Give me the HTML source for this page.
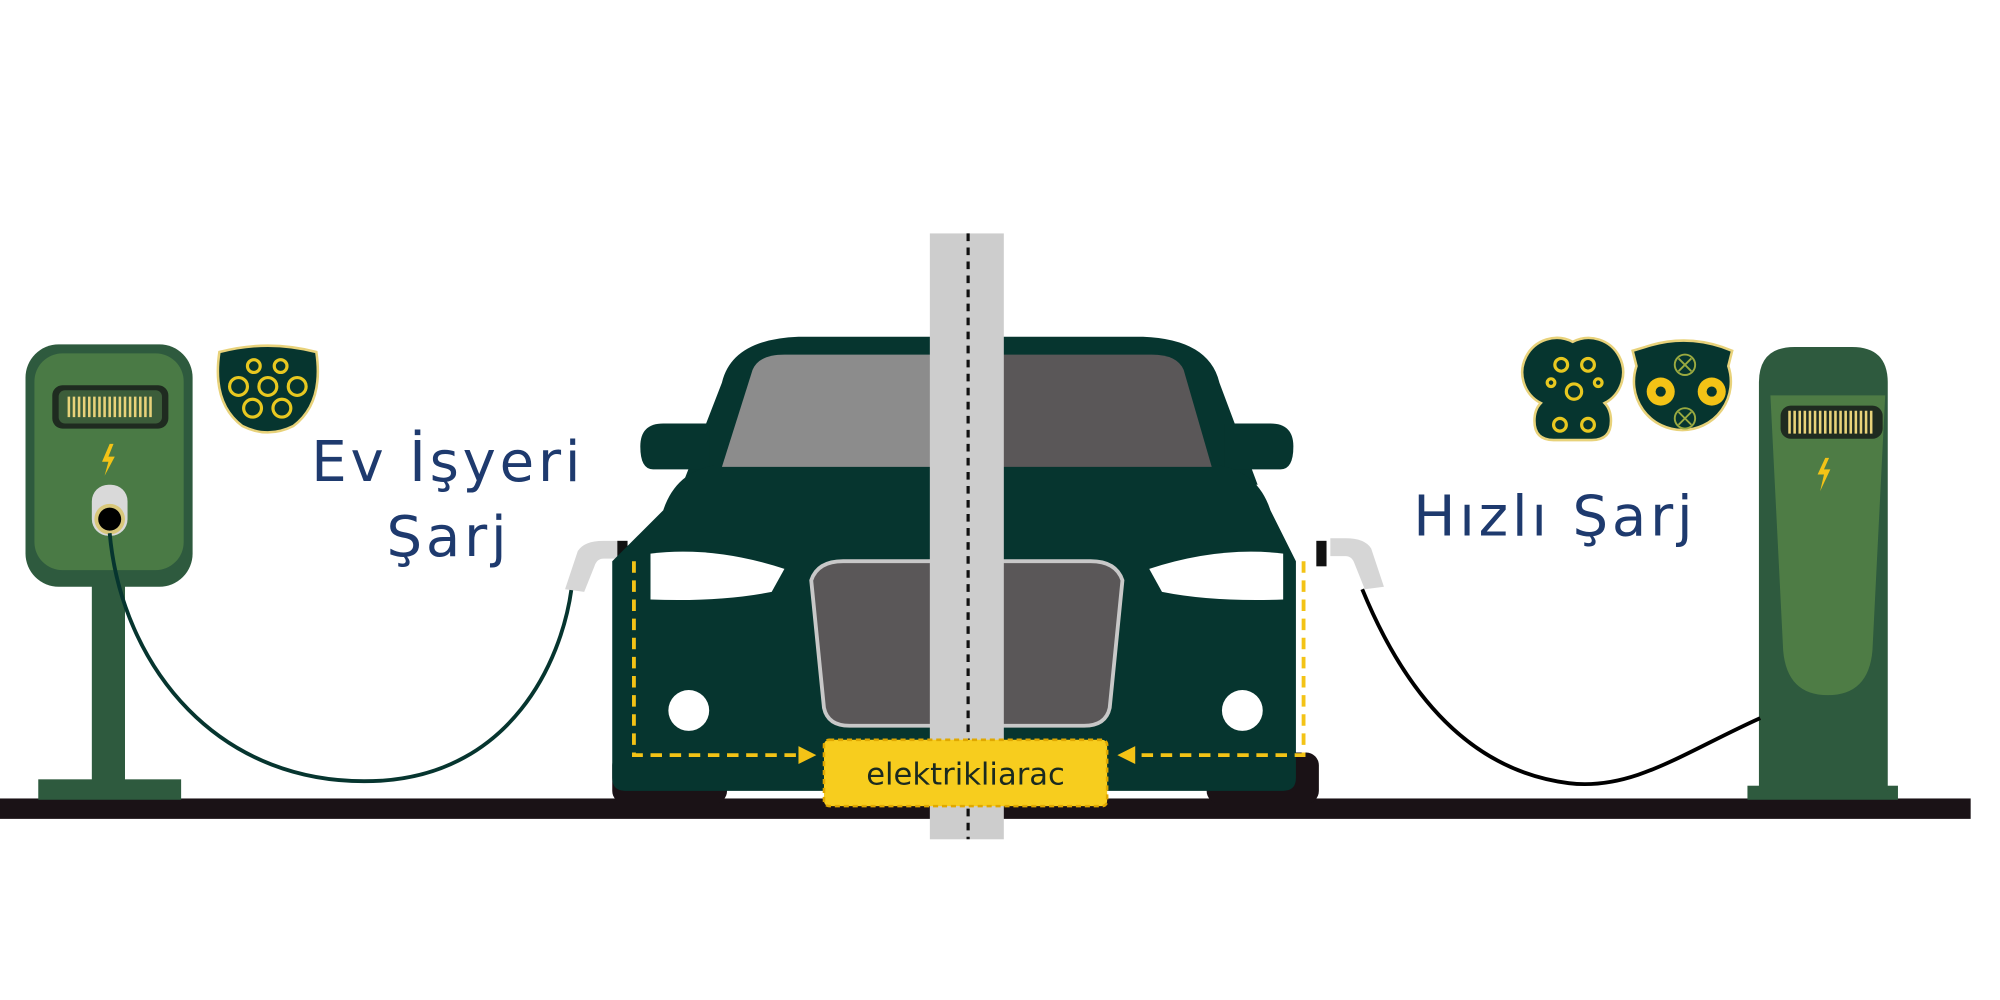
<!DOCTYPE html>
<html><head><meta charset="utf-8"><style>html,body{margin:0;padding:0;background:#fff}svg{display:block}</style></head>
<body>
<svg width="2000" height="1000" viewBox="0 0 1568 784" xmlns="http://www.w3.org/2000/svg">
<rect width="1568" height="784" fill="#fff"/>
<!-- ground -->
<rect x="0" y="626" width="1545" height="16" fill="#1a1216"/>
<!-- left charger -->
<rect x="72" y="455" width="26" height="160" fill="#2e5a3e"/>
<rect x="30" y="611" width="112" height="16" fill="#2e5a3e"/>
<rect x="20" y="270" width="131" height="190" rx="26" fill="#2e5a3e"/>
<rect x="27" y="277" width="117" height="170" rx="22" fill="#4a7a45"/>
<rect x="41" y="302" width="91" height="34" rx="8" fill="#1f2b20"/>
<rect x="46" y="306" width="81" height="26" rx="5" fill="#3c5d3a"/>
<g stroke="#e8d27a" stroke-width="2">
<path d="M54 311v16M58 311v16M62 311v16M66 311v16M70 311v16M74 311v16M78 311v16M82 311v16M86 311v16M90 311v16M94 311v16M98 311v16M102 311v16M106 311v16M110 311v16M114 311v16M118 311v16"/></g>
<path d="M86 348l-6 14h5l-3 11 8-15h-5l4-10z" fill="#f3c316"/>
<rect x="72" y="380" width="28" height="40" rx="13" fill="#d9d9d9"/>
<circle cx="86" cy="407" r="12" fill="#d8c77a"/><circle cx="86" cy="407" r="9" fill="#000"/>
<path d="M86 418 C95 520 170 620 300 612 C400 605 440 520 448 462" fill="none" stroke="#06352f" stroke-width="3"/>
<!-- left plug -->
<path d="M443 462 l10 -30 q5 -8 20 -8 l12 0 l0 14 l-12 0 q-5 0 -7 6 l-8 20z" fill="#d6d6d6"/>
<rect x="484" y="424" width="8" height="20" fill="#111"/>
<!-- connector left -->
<path d="M172 276 q38 -10 76 0 q6 40 -18 58 q-20 10 -40 0 q-24 -18 -18 -58z" fill="#06352f" stroke="#e8d27a" stroke-width="2"/>
<g fill="none" stroke="#e8c820" stroke-width="2.5">
<circle cx="199" cy="287" r="5"/><circle cx="220" cy="287" r="5"/><circle cx="187" cy="303" r="7"/><circle cx="210" cy="303" r="7"/><circle cx="233" cy="303" r="7"/><circle cx="198" cy="320" r="7"/><circle cx="221" cy="320" r="7"/></g>
<!-- text -->
<g font-family="'DejaVu Sans','Liberation Sans',sans-serif" fill="#1e3a6e" font-size="44" letter-spacing="3">
<text x="244" y="377">Ev İşyeri</text>
<text x="303" y="436">Şarj</text>
<text x="1108" y="420">Hızlı Şarj</text>
</g>
<!-- right connectors -->
<path d="M1233 268 a27 27 0 0 1 25 48 q5 5 5 14 q0 15 -15 15 l-30 0 q-15 0 -15 -15 q0 -9 5 -14 a27 27 0 0 1 25 -48z" fill="#06352f" stroke="#e8d27a" stroke-width="2"/>
<g fill="none" stroke="#e8c820" stroke-width="2.5"><circle cx="1224" cy="286" r="5"/><circle cx="1245" cy="286" r="5"/><circle cx="1216" cy="300" r="3"/><circle cx="1253" cy="300" r="3"/><circle cx="1234" cy="307" r="6"/><circle cx="1223" cy="333" r="5"/><circle cx="1245" cy="333" r="5"/></g>
<path d="M1290 272 q30 -10 60 0 l8 3 q-2 8 -3 12 a38 38 0 1 1 -72 0 q-1 -4 -3 -12z" fill="#06352f" stroke="#e8d27a" stroke-width="2"/>
<circle cx="1302" cy="307" r="11" fill="#f3c316"/><circle cx="1302" cy="307" r="4" fill="#06352f"/>
<circle cx="1342" cy="307" r="11" fill="#f3c316"/><circle cx="1342" cy="307" r="4" fill="#06352f"/>
<g fill="none" stroke="#9aaa40" stroke-width="1.5"><circle cx="1321" cy="286" r="8"/><circle cx="1321" cy="328" r="8"/><path d="M1316 281l10 10M1326 281l-10 10M1316 323l10 10M1326 323l-10 10"/></g>
<!-- right charger -->
<rect x="1370" y="616" width="118" height="11" fill="#2e5a3e"/>
<path d="M1379 620 V300 q0 -28 28 -28 h45 q28 0 28 28 V620z" fill="#2e5a3e"/>
<path d="M1388 310 h90 l-10 200 q-3 35 -35 35 q-32 0 -35 -35z" fill="#4e7c45"/>
<rect x="1396" y="318" width="80" height="26" rx="8" fill="#1f2b20"/>
<g stroke="#e8d27a" stroke-width="2"><path d="M1403 322v18M1407 322v18M1411 322v18M1415 322v18M1419 322v18M1423 322v18M1427 322v18M1431 322v18M1435 322v18M1439 322v18M1443 322v18M1447 322v18M1451 322v18M1455 322v18M1459 322v18M1463 322v18M1467 322v18"/></g>
<path d="M1431 359l-6 13h5l-3 13 8-17h-5l4-9z" fill="#f3c316"/>
<path d="M1380 563 C1320 590 1280 620 1230 614 C1150 604 1100 540 1068 462" fill="none" stroke="#000" stroke-width="3"/>
<path d="M1070 462 l-8 -20 q-2 -6 -7 -6 l-12 0 l0 -14 l12 0 q15 0 20 8 l10 30z" fill="#d6d6d6"/>
<rect x="1032" y="424" width="8" height="20" fill="#111"/>
<!-- car -->
<rect x="480" y="590" width="90" height="40" rx="10" fill="#1a1216"/>
<rect x="946" y="590" width="88" height="40" rx="10" fill="#1a1216"/>
<path d="M566 300 q8 -34 60 -36 h270 q52 2 60 36 l30 80 H535z" fill="#06352f"/>
<path d="M502 350 q0 -18 18 -18 h36 v36 h-44 q-10 0 -10 -18z" fill="#06352f"/>
<path d="M1014 350 q0 -18 -18 -18 h-36 v36 h44 q10 0 10 -18z" fill="#06352f"/>
<path d="M520 400 q10 -30 40 -35 h396 q30 5 40 35 l20 40 v170 q0 10 -10 10 H490 q-10 0 -10 -10 V440z" fill="#06352f"/>
<path d="M590 290 q5 -12 25 -12 h143 v88 H566z" fill="#8c8c8c"/>
<path d="M758 278 h145 q20 0 25 12 l22 76 H758z" fill="#5a5758"/>
<path d="M510 434 q50 -6 105 12 l-10 18 q-40 8 -95 6z" fill="#fff"/>
<path d="M1006 434 q-50 -6 -105 12 l10 18 q40 8 95 6z" fill="#fff"/>
<path d="M636 455 q5 -15 25 -15 h194 q20 0 25 15 l-10 100 q-3 14 -20 14 h-184 q-17 0 -20 -14z" fill="#5a5758" stroke="#c8c8c8" stroke-width="3"/>
<circle cx="540" cy="557" r="16" fill="#fff"/><circle cx="974" cy="557" r="16" fill="#fff"/>
<!-- pole -->
<rect x="729" y="183" width="58" height="475" fill="#cdcdcd"/>
<line x1="759" y1="183" x2="759" y2="658" stroke="#111" stroke-width="2.5" stroke-dasharray="6,5"/>
<!-- dashed path -->
<g fill="none" stroke="#f3c316" stroke-width="3" stroke-dasharray="9,6">
<path d="M497 440 V592 H628"/><path d="M1022 440 V592 H888"/></g>
<path d="M640 592 l-14 -7 v14z" fill="#f3c316"/><path d="M876 592 l14 -7 v14z" fill="#f3c316"/>
<rect x="646" y="580" width="222" height="52" rx="4" fill="#f7cd1e" stroke="#e0a800" stroke-width="2" stroke-dasharray="4,3"/>
<text x="757" y="615" text-anchor="middle" font-family="'DejaVu Sans','Liberation Sans',sans-serif" font-size="24" fill="#1a2a20">elektrikliarac</text>
</svg>
</body></html>
